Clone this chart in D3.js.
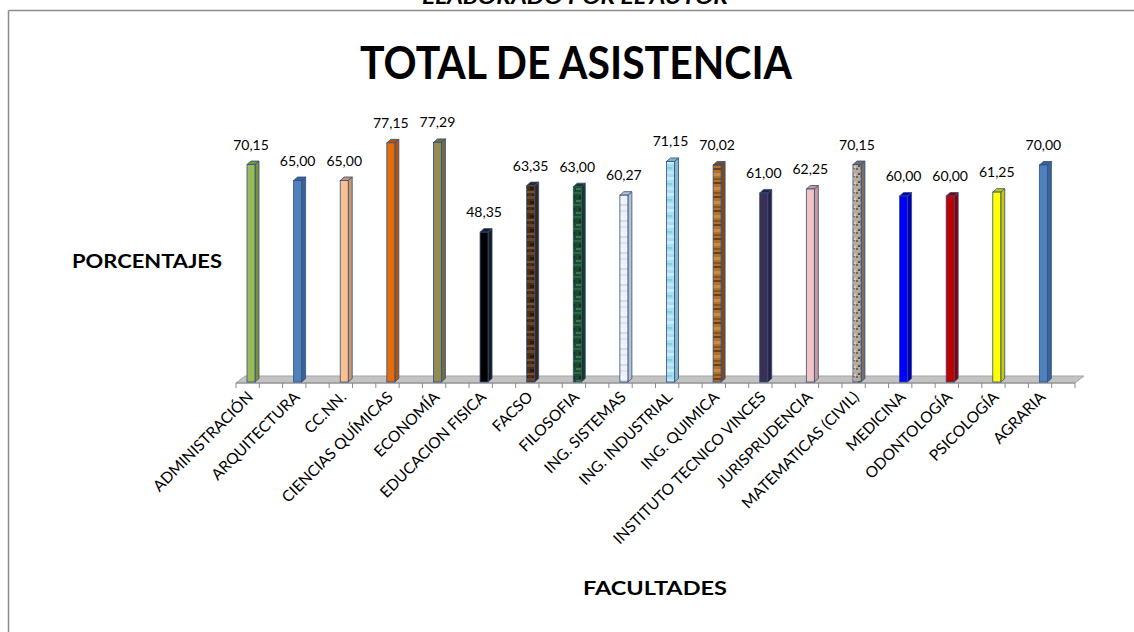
<!DOCTYPE html>
<html>
<head>
<meta charset="utf-8">
<script src="https://cdn.jsdelivr.net/npm/d3@7"></script>
<style>
  html, body { margin: 0; padding: 0; background: #fff; }
  svg { display: block; }
</style>
</head>
<body>
<svg id="chart" width="1134" height="632"></svg>
<script>
// Facultades y porcentaje de asistencia
const categories = [
  "ADMINISTRACIÓN", "ARQUITECTURA", "CC.NN.", "CIENCIAS QUÍMICAS", "ECONOMÍA",
  "EDUCACION FISICA", "FACSO", "FILOSOFIA", "ING. SISTEMAS", "ING. INDUSTRIAL",
  "ING. QUIMICA", "INSTITUTO TECNICO VINCES", "JURISPRUDENCIA", "MATEMATICAS (CIVIL)",
  "MEDICINA", "ODONTOLOGÍA", "PSICOLOGÍA", "AGRARIA"
];
const values = [
  70.15, 65.00, 65.00, 77.15, 77.29,
  48.35, 63.35, 63.00, 60.27, 71.15,
  70.02, 61.00, 62.25, 70.15,
  60.00, 60.00, 61.25, 70.00
];
// Relleno de cada columna (colores sólidos o texturas)
const fills = [
  "#9bbb59", "#4f81bd", "#fac090", "#e46c0a", "#948a54",
  "#000000", "url(#tex-wood-dark)", "url(#tex-green)", "url(#tex-light)", "url(#tex-ice)",
  "url(#tex-wood)", "#3b2f55", "#f2c4c2", "url(#tex-granite)",
  "#0000ff", "#c00000", "#ffff00", "#4f81bd"
];
const sideFills = [
  "#76923c", "#3a6397", "#c9976a", "#b45408", "#746c40",
  "#1a1a1a", "#3a2516", "#173a24", "#b8c0cc", "#7fb6cc",
  "#7d4a1e", "#2a2040", "#c99a98", "#7a6e62",
  "#0000b0", "#8a0000", "#c8c800", "#3a6397"
];

const svg = d3.select("#chart");
const W = 1134, H = 632;

// Texturas
const defs = svg.append("defs");
function stripePattern(id, w, h, base, bands) {
  const p = defs.append("pattern").attr("id", id)
    .attr("patternUnits", "userSpaceOnUse").attr("width", w).attr("height", h);
  p.append("rect").attr("width", w).attr("height", h).attr("fill", base);
  bands.forEach(b => p.append("rect").attr("x", b[0]).attr("y", b[1])
    .attr("width", b[2]).attr("height", b[3]).attr("fill", b[4]));
}
stripePattern("tex-wood-dark", 8, 14, "#4a2e18",
  [[0,0,8,3,"#6b4426"],[2,5,4,3,"#2e1a0c"],[0,9,8,2,"#7a5030"],[4,12,4,2,"#35200f"]]);
stripePattern("tex-green", 8, 12, "#1d4a2c",
  [[0,0,8,2,"#2d6a40"],[3,4,4,3,"#0f2f1a"],[0,8,5,2,"#3a7a4e"]]);
stripePattern("tex-light", 8, 16, "#eef1f7",
  [[0,2,8,2,"#dfe4ee"],[2,8,5,3,"#f8f9fc"],[0,12,8,2,"#d6dce8"]]);
stripePattern("tex-ice", 8, 16, "#a9dcef",
  [[0,1,8,3,"#c9ecf7"],[3,7,5,2,"#8ccbe4"],[0,11,8,3,"#bfe6f4"]]);
stripePattern("tex-wood", 8, 14, "#b0712f",
  [[0,0,8,2,"#6e3e18"],[0,5,8,3,"#c88a44"],[0,10,8,2,"#8a521f"]]);
stripePattern("tex-granite", 8, 8, "#b6aa9c",
  [[0,0,2,2,"#6f655a"],[4,2,2,2,"#e0d8cc"],[2,5,2,2,"#5a5048"],[6,6,2,2,"#d4cabe"],[5,0,2,1,"#8a7e70"]]);

// Marco del gráfico
svg.append("line").attr("x1", 8.5).attr("x2", W).attr("y1", 10.5).attr("y2", 10.5)
  .attr("stroke", "#8c8c8c").attr("stroke-width", 1.5);
svg.append("line").attr("x1", 8.5).attr("x2", 8.5).attr("y1", 10.5).attr("y2", H)
  .attr("stroke", "#8c8c8c").attr("stroke-width", 1.5);

// Encabezado recortado en el borde superior
svg.append("text").attr("x", 575).attr("y", 4)
  .attr("text-anchor", "middle")
  .attr("font-family", "Lato, 'Open Sans', sans-serif")
  .attr("font-weight", "bold").attr("font-style", "italic")
  .attr("font-size", 20)
  .attr("textLength", 306).attr("lengthAdjust", "spacingAndGlyphs")
  .text("ELABORADO POR EL AUTOR");

// Título
svg.append("text").attr("x", 576).attr("y", 79)
  .attr("text-anchor", "middle")
  .attr("font-family", "Lato, 'Open Sans', sans-serif")
  .attr("font-weight", "bold").attr("font-size", 46)
  .attr("textLength", 432).attr("lengthAdjust", "spacingAndGlyphs")
  .text("TOTAL DE ASISTENCIA");

// Títulos de ejes
svg.append("text").attr("x", 147).attr("y", 268)
  .attr("text-anchor", "middle")
  .attr("font-family", "Lato, 'Open Sans', sans-serif")
  .attr("font-weight", "bold").attr("font-size", 19)
  .attr("textLength", 150).attr("lengthAdjust", "spacingAndGlyphs")
  .text("PORCENTAJES");
svg.append("text").attr("x", 655).attr("y", 595)
  .attr("text-anchor", "middle")
  .attr("font-family", "Lato, 'Open Sans', sans-serif")
  .attr("font-weight", "bold").attr("font-size", 19)
  .attr("textLength", 144).attr("lengthAdjust", "spacingAndGlyphs")
  .text("FACULTADES");

// Escalas
const x = d3.scaleBand().domain(categories).range([236, 1075]).paddingInner(0).paddingOuter(0);
const y = d3.scaleLinear().domain([0, 100]).range([382, 72]);

// Geometría 3D
const floorFront = 383, floorDepthY = 7, floorDepthX = 9;
const barOffset = 11, barW = 8, dX = 4, dY = 3.5;

// Suelo (plano inferior)
const fl = 236, fr = 1075;
svg.append("path")
  .attr("d", `M${fl},${floorFront} L${fr},${floorFront} L${fr + floorDepthX},${floorFront - floorDepthY} L${fl + floorDepthX},${floorFront - floorDepthY} Z`)
  .attr("fill", "#c3c3c3").attr("stroke", "#a6a6a6").attr("stroke-width", 1);
svg.append("line").attr("x1", fl).attr("x2", fr).attr("y1", floorFront).attr("y2", floorFront)
  .attr("stroke", "#8a8a8a").attr("stroke-width", 1.2);

// Marcas del eje de categorías (cada media categoría)
const tickPos = [];
categories.forEach(c => { tickPos.push(x(c)); tickPos.push(x(c) + x.bandwidth() / 2); });
tickPos.push(fr);
svg.append("g").selectAll("line").data(tickPos).join("line")
  .attr("x1", d => d).attr("x2", d => d)
  .attr("y1", floorFront).attr("y2", floorFront + 5)
  .attr("stroke", "#8a8a8a").attr("stroke-width", 1);

// Columnas
const data = categories.map((c, i) => ({ c, v: values[i], fill: fills[i], side: sideFills[i] }));
const bars = svg.append("g").selectAll("g").data(data).join("g");
const outline = "#2f4f80";
bars.each(function (d) {
  const g = d3.select(this);
  const x0 = x(d.c) + barOffset, x1 = x0 + barW;
  const yt = y(d.v), yb = y(0);
  // cara lateral
  g.append("path")
    .attr("d", `M${x1},${yb} L${x1 + dX},${yb - dY} L${x1 + dX},${yt - dY} L${x1},${yt} Z`)
    .attr("fill", d.side).attr("stroke", outline).attr("stroke-width", 0.8);
  // cara superior
  g.append("path")
    .attr("d", `M${x0},${yt} L${x1},${yt} L${x1 + dX},${yt - dY} L${x0 + dX},${yt - dY} Z`)
    .attr("fill", d.side).attr("stroke", outline).attr("stroke-width", 0.8);
  // cara frontal
  g.append("rect")
    .attr("x", x0).attr("y", yt).attr("width", barW).attr("height", yb - yt)
    .attr("fill", d.fill).attr("stroke", outline).attr("stroke-width", 0.8);
});

// Etiquetas de valor
const fmt = v => v.toFixed(2).replace(".", ",");
svg.append("g").selectAll("text").data(data).join("text")
  .attr("x", d => x(d.c) + barOffset + barW / 2)
  .attr("y", d => y(d.v) - 15)
  .attr("text-anchor", "middle")
  .attr("font-family", "Lato, 'Open Sans', sans-serif")
  .attr("font-size", 14)
  .attr("fill", "#000")
  .text(d => fmt(d.v));

// Etiquetas de categoría rotadas
svg.append("g").selectAll("text").data(categories).join("text")
  .attr("transform", c => `translate(${x(c) + 18},${398}) rotate(-45)`)
  .attr("text-anchor", "end")
  .attr("font-family", "Lato, 'Open Sans', sans-serif")
  .attr("font-size", 15.5)
  .attr("fill", "#000")
  .text(c => c);
</script>
</body>
</html>
